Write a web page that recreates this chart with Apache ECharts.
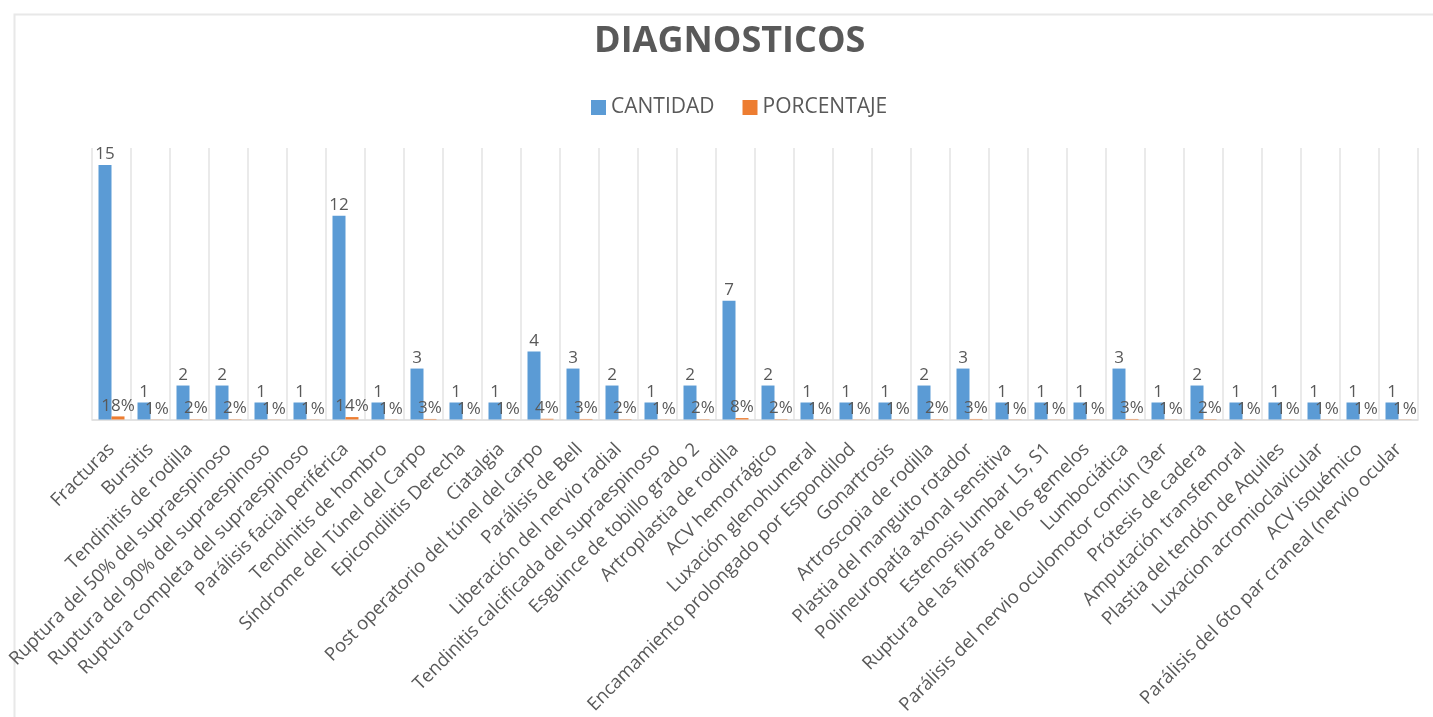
<!DOCTYPE html>
<html>
<head>
<meta charset="utf-8">
<script src="https://cdn.jsdelivr.net/npm/echarts@6/dist/echarts.min.js"></script>
<style>
html,body{margin:0;padding:0;background:#fff;}
#chart{width:1433px;height:717px;}
</style>
</head>
<body>
<div id="chart"></div>
<script>
const categories = [
  "Fracturas","Bursitis","Tendinitis de rodilla","Ruptura del 50% del supraespinoso",
  "Ruptura del 90% del supraespinoso","Ruptura completa del supraespinoso","Parálisis facial periférica",
  "Tendinitis de hombro","Síndrome del Túnel del Carpo","Epicondilitis Derecha","Ciatalgia",
  "Post operatorio del túnel del carpo","Parálisis de Bell","Liberación del nervio radial",
  "Tendinitis calcificada del supraespinoso","Esguince de tobillo grado 2","Artroplastia de rodilla",
  "ACV hemorrágico","Luxación glenohumeral","Encamamiento prolongado por Espondilod","Gonartrosis",
  "Artroscopia de rodilla","Plastia del manguito rotador","Polineuropatía axonal sensitiva",
  "Estenosis lumbar L5, S1","Ruptura de las fibras de los gemelos","Lumbociática",
  "Parálisis del nervio oculomotor común (3er","Prótesis de cadera","Amputación transfemoral",
  "Plastia del tendón de Aquiles","Luxacion acromioclavicular","ACV isquémico",
  "Parálisis del 6to par craneal (nervio ocular"
];
const cantidad = [15,1,2,2,1,1,12,1,3,1,1,4,3,2,1,2,7,2,1,1,1,2,3,1,1,1,3,1,2,1,1,1,1,1];
const porcentaje = [0.18,0.01,0.02,0.02,0.01,0.01,0.14,0.01,0.03,0.01,0.01,0.04,0.03,0.02,0.01,0.02,0.08,0.02,0.01,0.01,0.01,0.02,0.03,0.01,0.01,0.01,0.03,0.01,0.02,0.01,0.01,0.01,0.01,0.01];
const seriesNames = ["CANTIDAD","PORCENTAJE"];

const txt = '#595959';
const chart = echarts.init(document.getElementById('chart'));
chart.setOption({
  animation: false,
  backgroundColor: '#ffffff',
  textStyle: { fontFamily: 'Open Sans', color: txt },
  graphic: [{
    type: 'rect', left: 12, top: 12, shape: { width: 1440, height: 720 },
    style: { fill: 'none', stroke: '#e8e8e8', lineWidth: 2 }, silent: true, z: -1
  }],
  title: {
    text: 'DIAGNOSTICOS', left: 589, top: 19,
    textStyle: { fontSize: 36, fontWeight: 'bold', color: txt, fontFamily: 'Open Sans' }
  },
  legend: {
    data: seriesNames, top: 92, left: 586, itemWidth: 15, itemHeight: 15, itemGap: 28,
    icon: 'rect',
    textStyle: { fontSize: 21, color: txt, fontFamily: 'Open Sans' }
  },
  grid: { left: 92, right: 15, top: 148, bottom: 294, containLabel: false },
  xAxis: {
    type: 'category', data: categories, boundaryGap: true,
    axisLine: { lineStyle: { color: '#d9d9d9', width: 1.5 } },
    axisTick: { show: false },
    splitLine: { show: true, lineStyle: { color: '#e3e3e3', width: 1.5 } },
    axisLabel: { interval: 0, rotate: 45, fontSize: 18.5, color: txt, margin: 27, fontFamily: 'Open Sans' }
  },
  yAxis: {
    type: 'value', min: 0, max: 16, show: false, splitLine: { show: false }
  },
  series: [{
    name: seriesNames[0], type: 'bar', data: cantidad, barWidth: 13, barGap: '0%',
    itemStyle: { color: '#5B9BD5' },
    label: { show: true, position: 'top', distance: 2, fontSize: 17, color: txt, fontFamily: 'Open Sans' }
  }, {
    name: seriesNames[1], type: 'bar', data: porcentaje, barWidth: 13, barGap: '0%',
    itemStyle: { color: '#ED7D31' },
    label: { show: true, position: 'top', distance: 2, fontSize: 17, color: txt, fontFamily: 'Open Sans',
      formatter: p => Math.round(p.value * 100) + '%' }
  }]
});
</script>
</body>
</html>
